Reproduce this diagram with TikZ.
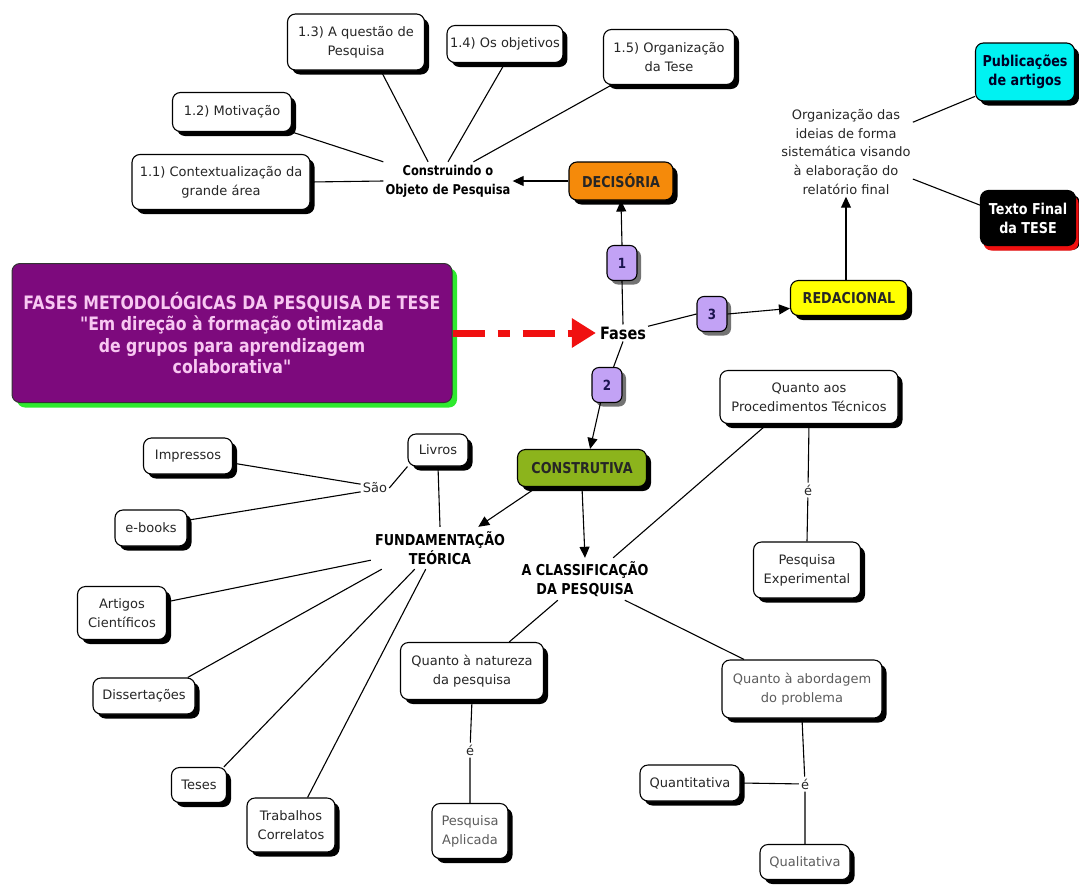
\documentclass[tikz,border=0pt]{standalone}
\usepackage{fontspec}
\setmainfont{DejaVu Sans}[Ligatures=TeXOff, BoldFeatures={FakeStretch=0.85}]
\usetikzlibrary{arrows.meta,shadows}

\definecolor{txtdark}{HTML}{262626}
\definecolor{txtgray}{HTML}{5C5C5C}
\definecolor{badgefill}{HTML}{C2A2F5}
\definecolor{badgetext}{HTML}{1C1450}
\definecolor{decfill}{HTML}{F58A0A}
\definecolor{redfill}{HTML}{FFFF00}
\definecolor{constfill}{HTML}{8CB41C}
\definecolor{pubfill}{HTML}{00F2F2}
\definecolor{titlefill}{HTML}{7D0A7D}
\definecolor{titletext}{HTML}{F8C8F2}
\definecolor{titleshadow}{HTML}{2EEA2E}
\definecolor{arrowred}{HTML}{F01010}

\tikzset{
  regular/.style={font=\fontsize{13}{19}\selectfont},
  concept/.style={regular, draw=black, line width=1.1pt, rounded corners=8pt,
    fill=white, align=center, text=txtdark, inner sep=3pt,
    drop shadow={shadow xshift=4.5pt, shadow yshift=-4.5pt, opacity=1, fill=black}},
  phase/.style={draw=black, line width=1.1pt, rounded corners=8pt, align=center,
    font=\bfseries\fontsize{15}{19}\selectfont, text=txtdark, inner sep=3pt,
    drop shadow={shadow xshift=4.5pt, shadow yshift=-4.5pt, opacity=1, fill=black}},
  badge/.style={draw=black, line width=1.1pt, rounded corners=7pt, fill=badgefill,
    minimum width=30pt, minimum height=35pt, inner sep=0pt, text=badgetext,
    font=\bfseries\fontsize{14}{16}\selectfont,
    drop shadow={shadow xshift=4pt, shadow yshift=-4pt, opacity=0.55, fill=black}},
  caption/.style={font=\bfseries\fontsize{15}{19}\selectfont, align=center,
    inner sep=2pt, text=black},
  linkword/.style={regular, inner sep=2pt, text=txtdark},
  conn/.style={draw=black, line width=1.1pt},
  arr/.style={conn, -{Triangle[length=11pt,width=10pt]}},
}

\begin{document}
\begin{tikzpicture}[x=1pt,y=-1pt]
\useasboundingbox (0,0) rectangle (1079,884);

% ---- central hub and phase badges
\node[font=\bfseries\fontsize{17}{20}\selectfont, inner sep=2pt] (fases) at (623,333) {Fases};
\node[badge] (b1) at (622,263) {1};
\node[badge] (b2) at (607,385) {2};
\node[badge] (b3) at (712,314) {3};

% ---- title block
\node[draw=black!80, line width=1pt, rounded corners=8pt, fill=titlefill,
      text=titletext, align=center, minimum width=440pt, minimum height=139pt,
      font=\bfseries\fontsize{18.5}{21.5}\selectfont,
      drop shadow={shadow xshift=5pt, shadow yshift=-5pt, opacity=1, fill=titleshadow}]
  (title) at (232,333) {FASES METODOLÓGICAS DA PESQUISA DE TESE\\
  "Em direção à formação otimizada\\de grupos para aprendizagem\\colaborativa"};

% ---- phase 1: decision
\node[phase, fill=decfill, minimum width=104pt, minimum height=38pt] (dec) at (621,181) {DECISÓRIA};
\node[caption, font=\bfseries\fontsize{13.5}{19}\selectfont, minimum width=127pt, minimum height=38pt] (constr) at (448,181) {Construindo o\\Objeto de Pesquisa};
\node[concept, minimum width=178pt, minimum height=55pt] (c11) at (221,182) {1.1) Contextualização da\\grande área};
\node[concept, minimum width=119pt, minimum height=39pt] (c12) at (232,112) {1.2) Motivação};
\node[concept, minimum width=137pt, minimum height=56pt] (c13) at (356,42) {1.3) A questão de\\Pesquisa};
\node[concept, minimum width=114pt, minimum height=37pt] (c14) at (505,44) {1.4) Os objetivos};
\node[concept, minimum width=131pt, minimum height=55pt] (c15) at (669,57) {1.5) Organização\\da Tese};

% ---- phase 3: writing
\node[regular, align=center, inner sep=2pt, text=txtdark, font=\fontsize{13}{18.7}\selectfont] (org) at (846,152)
  {Organização das\\ideias de forma\\sistemática visando\\à elaboração do\\relatório final};
\node[phase, fill=redfill, minimum width=117pt, minimum height=35pt] (red) at (849,298) {REDACIONAL};
\node[phase, fill=pubfill, text=black!85!blue, minimum width=99pt, minimum height=58pt] (pub) at (1025,72) {Publicações\\de artigos};
\node[phase, fill=black, text=white, minimum width=95pt, minimum height=55pt,
      drop shadow={shadow xshift=3pt, shadow yshift=-5pt, opacity=1, fill=arrowred}] (txt) at (1028,218) {Texto Final\\da TESE};

% ---- phase 2: construction
\node[phase, fill=constfill, minimum width=129pt, minimum height=37pt] (constru) at (582,468) {CONSTRUTIVA};
\node[caption, minimum width=138pt, minimum height=42pt] (fund) at (440,548) {FUNDAMENTAÇÃO\\TEÓRICA};
\node[caption, minimum width=138pt, minimum height=42pt] (clas) at (585,579) {A CLASSIFICAÇÃO\\DA PESQUISA};

\node[concept, minimum width=60pt, minimum height=32pt] (livros) at (438,450) {Livros};
\node[linkword] (sao) at (375,488) {São};
\node[concept, minimum width=89pt, minimum height=36pt] (imp) at (188,456) {Impressos};
\node[concept, minimum width=72pt, minimum height=36pt] (ebk) at (151,528) {e-books};
\node[concept, minimum width=89pt, minimum height=53pt] (art) at (122,613) {Artigos\\Científicos};
\node[concept, minimum width=102pt, minimum height=36pt] (diss) at (144,696) {Dissertações};
\node[concept, minimum width=55pt, minimum height=35pt] (teses) at (199,785) {Teses};
\node[concept, minimum width=88pt, minimum height=54pt] (trab) at (291,825) {Trabalhos\\Correlatos};

\node[concept, minimum width=178pt, minimum height=53pt] (proc) at (809,397) {Quanto aos\\Procedimentos Técnicos};
\node[linkword] (e1) at (808,490) {é};
\node[concept, minimum width=107pt, minimum height=56pt] (exp) at (807,570) {Pesquisa\\Experimental};

\node[concept, minimum width=143pt, minimum height=57pt] (nat) at (472,671) {Quanto à natureza\\da pesquisa};
\node[linkword] (e2) at (470,750) {é};
\node[concept, text=txtgray, minimum width=76pt, minimum height=55pt] (apl) at (470,831) {Pesquisa\\Aplicada};

\node[concept, text=txtgray, minimum width=160pt, minimum height=58pt] (abord) at (802,689) {Quanto à abordagem\\do problema};
\node[linkword] (e3) at (805,784) {é};
\node[concept, minimum width=100pt, minimum height=36pt] (quant) at (690,783) {Quantitativa};
\node[concept, text=txtgray, minimum width=90pt, minimum height=35pt] (qual) at (805,862) {Qualitativa};

% ---- connectors
\draw[line width=7pt, arrowred, dash pattern=on 32pt off 13pt on 12pt off 13pt,
      -{Triangle[length=24pt,width=28pt]}, shorten >=2pt] (title.east) -- (fases.west);

\draw[conn] (fases.north) -- (b1.south);
\draw[arr] (b1.north) -- (dec.south);
\draw[arr] (dec.west) -- (constr.east);
\draw[conn] (c11.east) -- (constr.west);
\draw[conn] (c12.south east) -- (constr.north west);
\draw[conn] (c13.-49) -- (constr.136);
\draw[conn] (c14.south) -- (constr.north);
\draw[conn] (c15.206) -- (constr.37);

\draw[conn] (fases.15) -- (b3.west);
\draw[arr] (b3.east) -- (red.190);
\draw[arr] (red.north -| org.south) -- (org.south);
\draw[conn] (org.24) -- (pub.206);
\draw[conn] (org.-22) -- (txt.165);

\draw[conn] (fases.south) -- (b2.70);
\draw[arr] (b2.-110) -- (constru.67);
\draw[arr] (constru.203) -- (fund.29);
\draw[arr] (constru.south) -- (clas.north);

\draw[conn] (livros.south) -- (fund.north);
\draw[conn] (sao.east) -- (livros.south west);
\draw[conn] (imp.-9) -- (sao.165);
\draw[conn] (ebk.12) -- (sao.195);
\draw[conn] (fund.190) -- (art.14);
\draw[conn] (fund.200) -- (diss.23);
\draw[conn] (fund.220) -- (teses.36);
\draw[conn] (fund.236) -- (trab.59);

\draw[conn] (clas.37) -- (proc.213);
\draw[conn] (proc.south) -- (e1) -- (exp.north);
\draw[conn] (clas.218) -- (nat.38);
\draw[conn] (nat.south) -- (e2) -- (apl.north);
\draw[conn] (clas.-28) -- (abord.153);
\draw[conn] (abord.south) -- (e3) -- (qual.north);
\draw[conn] (quant.east) -- (e3);
\end{tikzpicture}
\end{document}
